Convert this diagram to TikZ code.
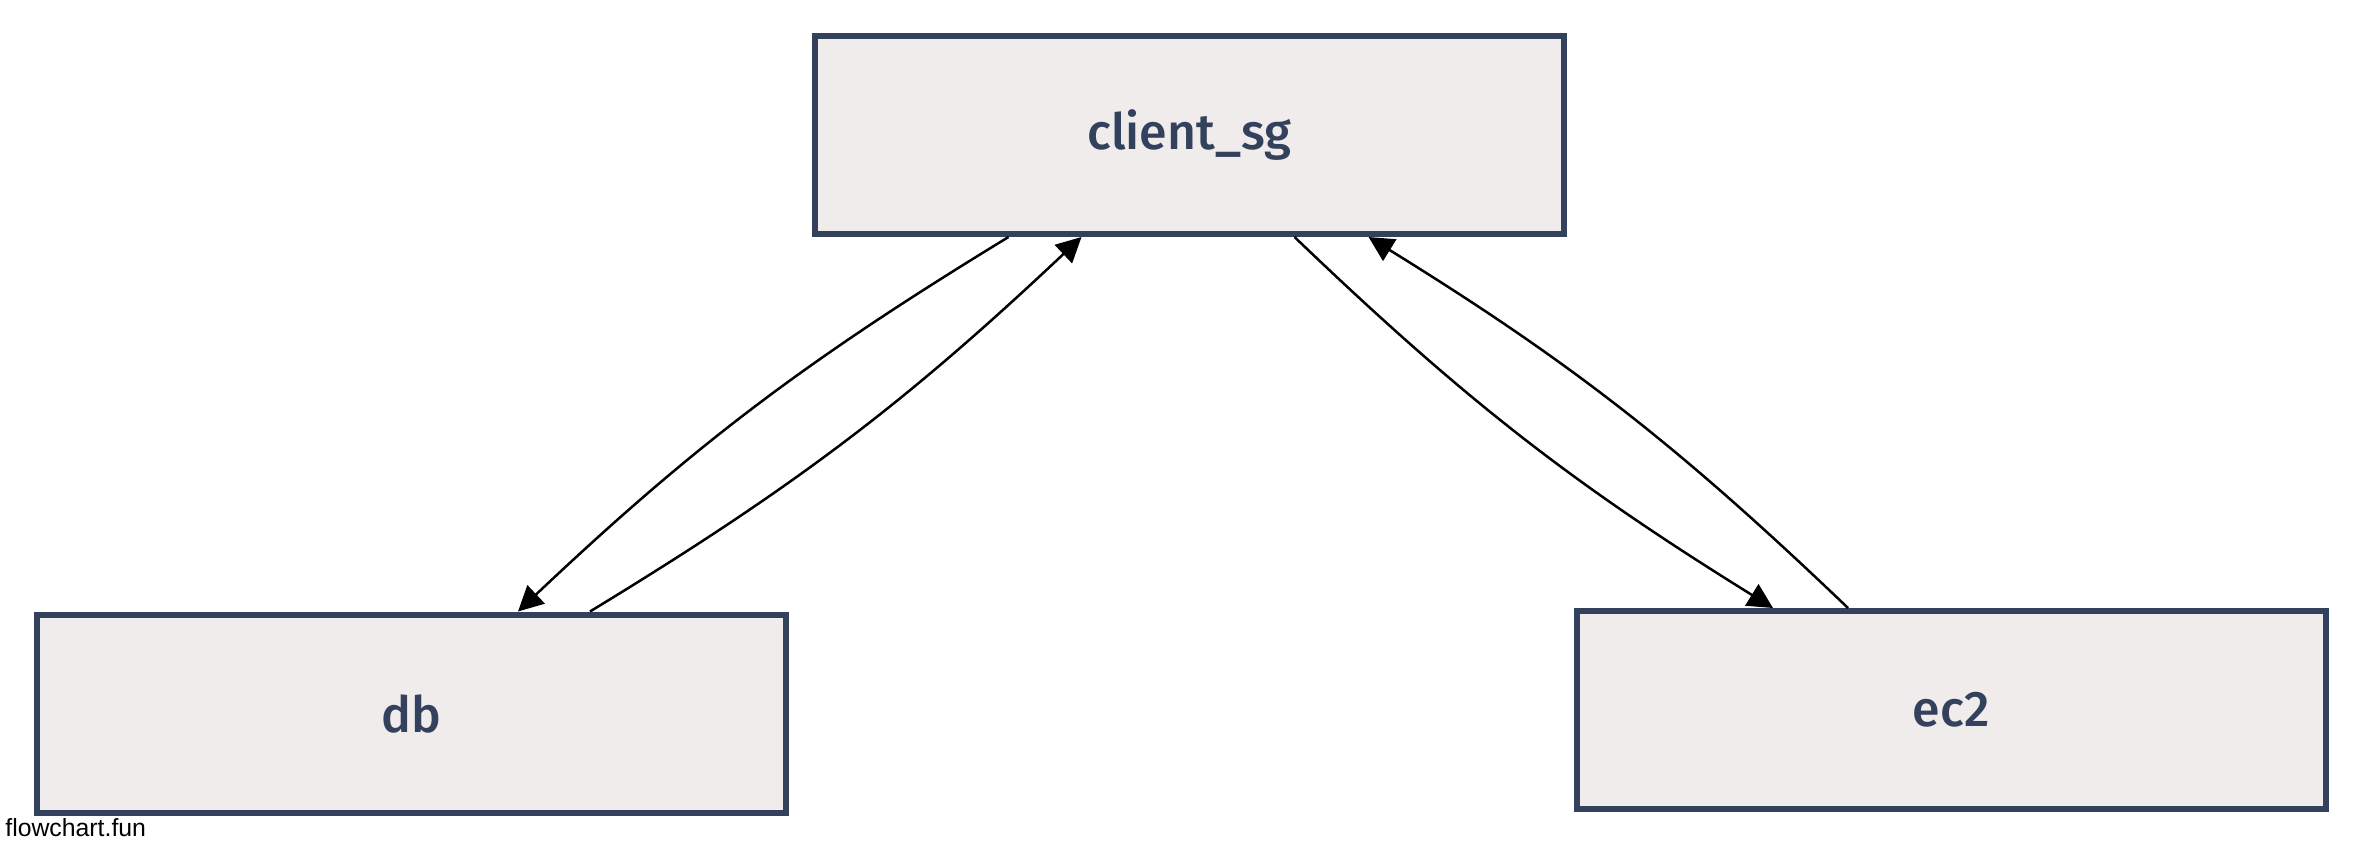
\documentclass[tikz,border=0pt]{standalone}
\usepackage{fontspec}
\setmainfont{Fira Sans Medium}
\newfontfamily\markfont{Liberation Sans}
\usetikzlibrary{arrows.meta,calc}
\definecolor{boxline}{HTML}{33415C}
\definecolor{boxfill}{HTML}{F0ECEC}
\tikzset{
  fcbox/.style={draw=boxline, fill=boxfill, line width=3pt, text=boxline,
    minimum width=374.5pt, minimum height=99pt, inner sep=0pt,
    font=\fontsize{25}{30}\selectfont},
  fcedge/.style={draw=black, line width=1.25pt,
    -{Triangle[length=12.5pt,width=12.5pt]}},
}
\begin{document}
\begin{tikzpicture}[x=0.5pt,y=-0.5pt]
\useasboundingbox (0,0) rectangle (2364,852);
\node[fcbox] (cs) at (1189.5,135) {client\_sg};
\node[fcbox] (db) at (411,713.5) {db};
\node[fcbox] (ec) at (1951,710) {ec2};
\node[font=\markfont\fontsize{12.4}{14}\selectfont, anchor=base west, inner sep=0pt] (mark) at (5,836) {flowchart.fun};
\coordinate (e1s) at ($(cs.south)+(-181,0)$);
\coordinate (e1e) at ($(db.north)+(107,0)$);
\coordinate (e2s) at ($(db.north)+(179,0)$);
\coordinate (e2e) at ($(cs.south)+(-108,0)$);
\coordinate (e3s) at ($(cs.south)+(105,0)$);
\coordinate (e3e) at ($(ec.north)+(-178,0)$);
\coordinate (e4s) at ($(ec.north)+(-103,0)$);
\coordinate (e4e) at ($(cs.south)+(179,0)$);
\draw[fcedge] (e1s) to[bend right=6] (e1e);
\draw[fcedge] (e2s) to[bend right=6] (e2e);
\draw[fcedge] (e3s) to[bend right=6] (e3e);
\draw[fcedge] (e4s) to[bend right=6] (e4e);
\end{tikzpicture}
\end{document}
